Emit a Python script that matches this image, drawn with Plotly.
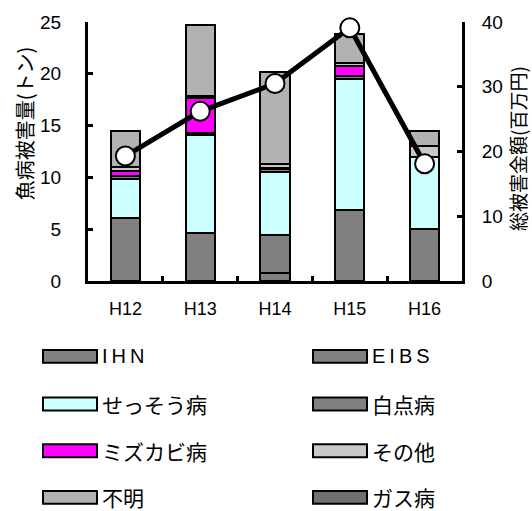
import plotly.graph_objects as go

# ---- data ----
years = ["H12", "H13", "H14", "H15", "H16"]
series_names = ["I\u2009H\u2009N", "E\u2009I\u2009B\u2009S", "せっそう病", "白点病", "ミズカビ病", "その他", "不明", "ガス病"]
series_colors = ["#808080", "#808080", "#CCFFFF", "#808080", "#FF00FF", "#C8C8C8", "#B2B2B2", "#707070"]
ihn = [6.1, 4.6, 0.8, 6.9, 5.0]
eibs = [0.0, 0.0, 3.6, 0.0, 0.0]
sesso = [3.7, 9.5, 6.1, 12.6, 7.0]
hakuten = [0.3, 0.2, 0.3, 0.3, 0.0]
mizukabi = [0.5, 3.4, 0.1, 1.0, 0.0]
sonota = [0.4, 0.2, 0.35, 0.2, 1.0]
fumei = [3.5, 6.8, 8.95, 2.85, 1.5]
gasu = [0.0, 0.0, 0.0, 0.0, 0.0]
total_amount = [19.3, 26.2, 30.5, 39.1, 18.1]

series_values = [ihn, eibs, sesso, hakuten, mizukabi, sonota, fumei, gasu]

FONT = "Liberation Sans, Arial, Noto Sans CJK JP, sans-serif"
JFONT = "Noto Sans CJK JP, sans-serif"

W, H = 532, 511
L, R, T, B = 88, 462, 20, 281


def px2x(px):
    return (px - L) / (R - L)


def py2y(py):
    return (B - py) / (B - T)


fig = go.Figure()
for name, col, vals in zip(series_names, series_colors, series_values):
    fig.add_trace(go.Bar(
        x=years, y=vals, name=name,
        marker=dict(color=col, line=dict(color="black", width=2)),
        showlegend=False, yaxis="y",
    ))

fig.add_trace(go.Scatter(
    x=years, y=total_amount, yaxis="y2", mode="lines+markers",
    line=dict(color="black", width=5),
    marker=dict(size=19, color="white", line=dict(color="black", width=2)),
    showlegend=False, cliponaxis=False,
))

# manual legend (2 columns)
shapes = []
annotations = []
col_x = [43, 313]
row_y = [357, 405, 452, 499]
for i, (name, col) in enumerate(zip(series_names, series_colors)):
    cx = col_x[i % 2]
    ry = row_y[i // 2]
    shapes.append(dict(
        type="rect", xref="paper", yref="paper",
        x0=px2x(cx), x1=px2x(cx + 54), y0=py2y(ry + 6.5), y1=py2y(ry - 6.5),
        fillcolor=col, line=dict(color="black", width=2),
    ))
    latin = i < 2
    annotations.append(dict(
        x=px2x(cx + 57), y=py2y(ry), xref="paper", yref="paper",
        text=name, showarrow=False, xanchor="left", yanchor="middle",
        font=dict(size=20 if latin else 21, color="black",
                  family="Liberation Sans" if latin else JFONT),
    ))

annotations.append(dict(
    x=px2x(24), y=py2y(122), xref="paper", yref="paper",
    text="魚病被害量(トン)", textangle=-90, showarrow=False,
    xanchor="center", yanchor="middle",
    font=dict(size=20, color="black", family=JFONT),
))
annotations.append(dict(
    x=px2x(517), y=py2y(148), xref="paper", yref="paper",
    text="総被害金額(百万円)", textangle=-90, showarrow=False,
    xanchor="center", yanchor="middle",
    font=dict(size=19, color="black", family=JFONT),
))

fig.update_layout(
    width=W, height=H,
    margin=dict(l=L, r=W - R, t=T, b=H - B),
    paper_bgcolor="white", plot_bgcolor="white",
    barmode="stack", bargap=0.61,
    font=dict(family=FONT, size=19, color="black"),
    xaxis=dict(
        showline=True, linecolor="black", linewidth=3,
        ticks="inside", tickson="boundaries", ticklen=5, tickwidth=3, tickcolor="black",
        showgrid=False, tickfont=dict(size=18), ticklabelstandoff=9,
    ),
    yaxis=dict(
        range=[0, 25], dtick=5, showline=True, linecolor="black", linewidth=3,
        ticks="inside", ticklen=5, tickwidth=3, tickcolor="black",
        showgrid=False, zeroline=False, tickfont=dict(size=19), ticklabelstandoff=20,
    ),
    yaxis2=dict(
        range=[0, 40], dtick=10, overlaying="y", side="right",
        showline=True, linecolor="black", linewidth=3,
        ticks="inside", ticklen=5, tickwidth=3, tickcolor="black",
        showgrid=False, zeroline=False, tickfont=dict(size=19), ticklabelstandoff=13,
    ),
    shapes=shapes, annotations=annotations,
)

fig.write_html("out.html")
